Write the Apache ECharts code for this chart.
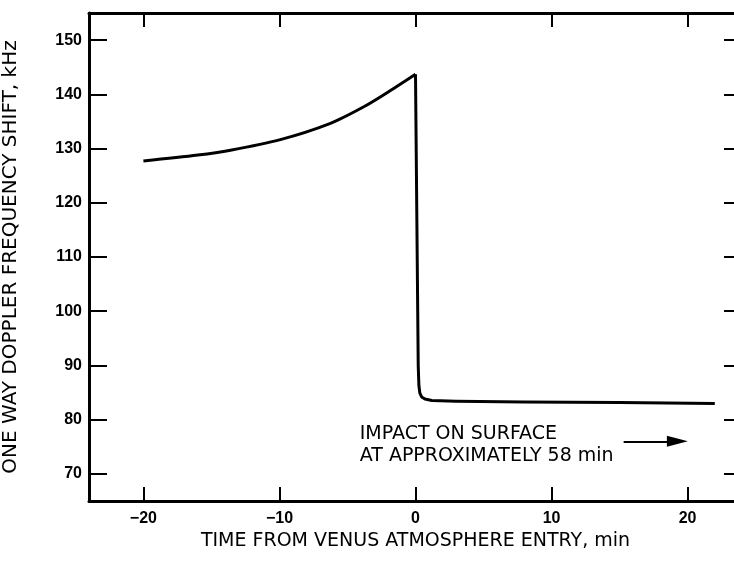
<!DOCTYPE html>
<html>
<head>
<meta charset="utf-8">
<script src="https://cdn.jsdelivr.net/npm/echarts@6/dist/echarts.min.js"></script>
<style>html,body{margin:0;padding:0;background:#fff}#c{width:734px;height:562px}</style>
</head>
<body>
<div id="c"></div>
<script>
// Doppler shift before atmosphere entry: [minutes from entry, kHz]
const approachCurve = [
  [-20, 127.7], [-16, 128.8], [-13.6, 129.7], [-10, 131.6], [-6.3, 134.6],
  [-3.8, 137.7], [-1.9, 140.6], [0, 143.7]
];
// Doppler shift after atmosphere entry: [minutes from entry, kHz]
const descentCurve = [
  [0, 143.7], [0.2, 90.0], [0.25, 86.3], [0.32, 84.9], [0.45, 84.2],
  [0.7, 83.8], [1.2, 83.55], [3, 83.4], [8, 83.25], [15, 83.15], [22, 83.0]
];
const xTicks = [-20, -10, 0, 10, 20];
const yTicks = [70, 80, 90, 100, 110, 120, 130, 140, 150];
const xTitle = 'TIME FROM VENUS ATMOSPHERE ENTRY, min';
const yTitle = 'ONE WAY DOPPLER FREQUENCY SHIFT, kHz';
const noteText = ['IMPACT ON SURFACE', 'AT APPROXIMATELY 58 min'];
const notePos = [-4.1, 75.25];
const arrowFrom = [15.3, 76.0];
const arrowTo = [19.25, 76.0];

const FONT = 'DejaVu Sans';
const NUMFONT = 'Liberation Sans';
const chart = echarts.init(document.getElementById('c'));
const axisLine = { lineStyle: { color: '#000', width: 3 } };
const minusFmt = v => String(v).replace('-', '\u2212');
chart.setOption({
  animation: false,
  grid: { left: 89, top: 13, bottom: 61, right: -8, outerBoundsMode: 'none', containLabel: false },
  xAxis: [{
    type: 'value', min: -24, max: 24, interval: 10,
    axisLine: { ...axisLine, onZero: false },
    axisTick: { inside: true, length: 14, lineStyle: { color: '#000', width: 2 }, customValues: xTicks },
    axisLabel: { color: '#000', fontFamily: NUMFONT, fontSize: 16, fontWeight: 'bold', margin: 10, customValues: xTicks, formatter: minusFmt },
    splitLine: { show: false },
    name: xTitle, nameLocation: 'middle', nameGap: 30,
    nameTextStyle: { color: '#000', fontFamily: FONT, fontSize: 19 }
  }, {
    type: 'value', position: 'top', min: -24, max: 24,
    axisLine: { ...axisLine, onZero: false },
    axisTick: { inside: true, length: 14, lineStyle: { color: '#000', width: 2 }, customValues: xTicks },
    axisLabel: { show: false }, splitLine: { show: false }
  }],
  yAxis: [{
    type: 'value', min: 65, max: 155,
    axisLine: { ...axisLine, onZero: false },
    axisTick: { inside: true, length: 18, lineStyle: { color: '#000', width: 2 }, customValues: yTicks },
    axisLabel: { color: '#000', fontFamily: NUMFONT, fontSize: 16, fontWeight: 'bold', margin: 7, customValues: yTicks },
    splitLine: { show: false },
    name: yTitle, nameLocation: 'middle', nameGap: 68,
    nameTextStyle: { color: '#000', fontFamily: FONT, fontSize: 20 }
  }, {
    type: 'value', position: 'right', min: 65, max: 155,
    axisLine: { ...axisLine, onZero: false },
    axisTick: { inside: true, length: 18, lineStyle: { color: '#000', width: 2 }, customValues: yTicks },
    axisLabel: { show: false }, splitLine: { show: false }
  }],
  series: [{
    type: 'line', data: approachCurve, showSymbol: false, symbol: 'none', smooth: 0.3,
    lineStyle: { color: '#000', width: 3 }
  }, {
    type: 'line', data: descentCurve, showSymbol: false, symbol: 'none',
    lineStyle: { color: '#000', width: 3, join: 'round' },
    markPoint: {
      symbol: 'circle', symbolSize: 0,
      label: {
        show: true, position: 'right', distance: 0, color: '#000', fontFamily: FONT, fontSize: 19,
        lineHeight: 22, align: 'left', formatter: noteText.join('\n')
      },
      data: [{ coord: notePos }]
    },
    markLine: {
      silent: true, symbol: ['none', 'triangle'], symbolSize: [11, 21],
      label: { show: false },
      lineStyle: { color: '#000', width: 2, type: 'solid' },
      data: [[{ coord: arrowFrom }, { coord: arrowTo }]]
    }
  }]
});
</script>
</body>
</html>
